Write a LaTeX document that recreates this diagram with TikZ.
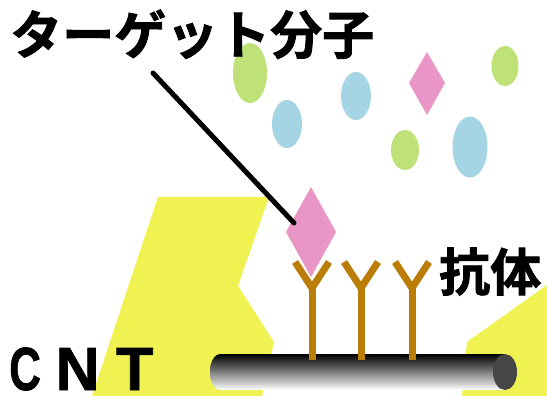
\documentclass[tikz,border=0pt]{standalone}
\usepackage{fontspec}
\newfontfamily\jpfont{Noto Sans CJK JP Bold}[FakeBold=1.6]
\newfontfamily\latinbold{Liberation Sans Bold}[FakeBold=1.2]
\definecolor{zoneyellow}{RGB}{240,242,82}
\definecolor{molgreen}{RGB}{190,226,120}
\definecolor{molblue}{RGB}{165,212,228}
\definecolor{molpink}{RGB}{233,150,198}
\definecolor{abbrown}{RGB}{186,126,8}
\definecolor{capgray}{RGB}{70,70,70}
\tikzset{
  zone/.style={fill=zoneyellow},
  greenmol/.style={fill=molgreen},
  bluemol/.style={fill=molblue},
  pinkmol/.style={fill=molpink},
  antibody/.style={draw=abbrown, line width=7pt, line join=miter},
  leader/.style={line width=5pt, line cap=round},
  jplabel/.style={font=\jpfont, inner sep=0pt, text=black},
}
\begin{document}
\begin{tikzpicture}[x=1pt, y=-1pt]
\useasboundingbox (0,0) rectangle (547,396);
\fill[white] (0,0) rectangle (547,396);

% yellow regions
\fill[zone] (158,197) -- (269,197) -- (238,286) -- (274,342) -- (262,396) -- (92,396) -- cycle;
\fill[zone] (547,285) -- (467,342) -- (462,396) -- (547,396) -- cycle;

% floating molecules
\fill[greenmol] (250,73) ellipse [x radius=17, y radius=30];
\fill[bluemol] (287,124) ellipse [x radius=15, y radius=24];
\fill[bluemol] (356,96) ellipse [x radius=15, y radius=24];
\fill[greenmol] (405,150) ellipse [x radius=14, y radius=20];
\fill[bluemol] (470,147) ellipse [x radius=17.5, y radius=30.5];
\fill[greenmol] (505,66) ellipse [x radius=13.5, y radius=20];
\fill[pinkmol] (427,52) -- (445,83) -- (427,115) -- (409,83) -- cycle;

% carbon nanotube
\shade[top color=black, bottom color=white]
  (505,354) -- (220,354) .. controls (214.5,354) and (210,362) .. (210,372)
  .. controls (210,382) and (214.5,390) .. (220,390) -- (505,390) -- cycle;
\fill[capgray] (505,372) ellipse [x radius=12, y radius=18];

% antibodies
\foreach \ax in {312,361,412}{
  \draw[antibody] (\ax-17,262) -- (\ax,288) -- (\ax+17,262);
  \draw[antibody] (\ax,287) -- (\ax,360);
}

% bound target molecule
\node[coordinate] (tgtleft) at (294,223) {};
\fill[pinkmol] (311,187) -- (336,232) -- (311,277) -- (286,232) -- cycle;

% labels
\node[jplabel, anchor=base west, font=\jpfont\fontsize{52}{52}\selectfont] (target) at (10,54) {ターゲット分子};
\node[coordinate] (leadstart) at (153,73) {};
\draw[leader] (leadstart) -- (tgtleft);
\node[jplabel, anchor=base west, font=\jpfont\fontsize{51}{51}\selectfont] (ab) at (439,291) {抗体};
\node[inner sep=0pt, anchor=base west, font=\latinbold\fontsize{61}{61}\selectfont] (cnt) at (9,390) {\scalebox{0.72}[1]{C}\hspace{0.24em}N\hspace{0.27em}T};
\end{tikzpicture}
\end{document}
